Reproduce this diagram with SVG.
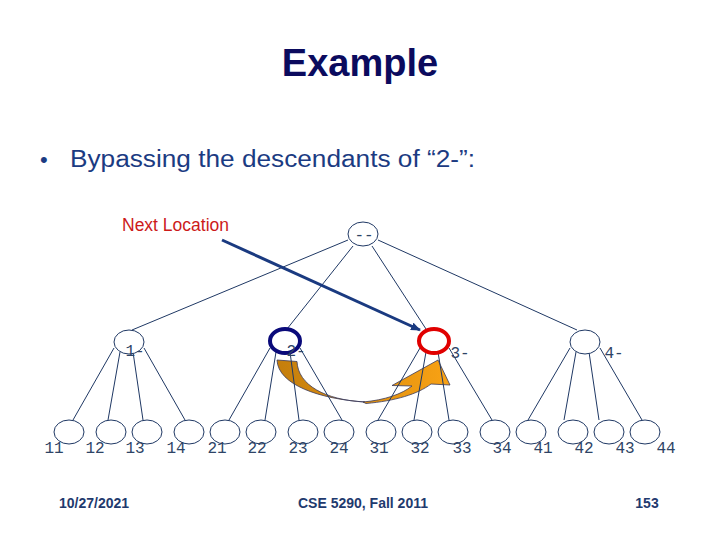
<svg xmlns="http://www.w3.org/2000/svg" width="720" height="540" viewBox="0 0 720 540">
<style>
.edge{stroke:#1F3864;stroke-width:1;fill:none}
.node{fill:#fff;stroke:#1F3864;stroke-width:1}
.lbl{font-family:"Liberation Mono","DejaVu Sans Mono",monospace;font-size:16px;fill:#2E4466}
.foot{font-family:"Liberation Sans",Arial,sans-serif;font-size:14px;font-weight:bold;fill:#1F3A6E}
</style>
<defs>
<marker id="ah" markerWidth="10" markerHeight="8" refX="9" refY="4" orient="auto" markerUnits="userSpaceOnUse">
<path d="M0,0 L10,4 L0,8 Z" fill="#1A3A80"/>
</marker>
<linearGradient id="og" x1="277" y1="0" x2="450" y2="0" gradientUnits="userSpaceOnUse">
<stop offset="0" stop-color="#C47E0C"/>
<stop offset="1" stop-color="#F9A214"/>
</linearGradient>
</defs>
<rect width="720" height="540" fill="#fff"/>
<text x="360" y="76" text-anchor="middle" font-family="Liberation Sans,Arial,sans-serif" font-size="38" font-weight="bold" fill="#0B0B5E">Example</text>
<text x="40" y="167" font-family="Liberation Sans,Arial,sans-serif" font-size="22" fill="#1B3B82">•</text>
<text x="70" y="167" font-family="Liberation Sans,Arial,sans-serif" font-size="23" fill="#1B3B82" textLength="405" lengthAdjust="spacingAndGlyphs">Bypassing the descendants of “2-”:</text>
<text x="122" y="231" font-family="Liberation Sans,Arial,sans-serif" font-size="17.5" fill="#CC1A1A">Next Location</text>
<g id="bypass-arrow">
<path d="M277,360 L297,361.5 C298,385 325,400 365,402 C320,399 278,385 277,360 Z" fill="url(#og)" stroke="#3A3A5A" stroke-width="0.8"/>
<path d="M363,402 C385,400 402,394 412,386 L392,385.5 L438,360 L450,385 L431,384 C418,394 395,401 366,403.5 Z" fill="url(#og)" stroke="#3A3A5A" stroke-width="0.8"/>
</g>
<g id="connectors">
<line class="edge" x1="348" y1="240" x2="132" y2="330"/>
<line class="edge" x1="353" y1="246" x2="287" y2="329"/>
<line class="edge" x1="372" y1="246" x2="426" y2="329"/>
<line class="edge" x1="378" y1="240" x2="577" y2="330"/>
<line class="edge" x1="114" y1="348" x2="73" y2="420"/>
<line class="edge" x1="120" y1="352" x2="108" y2="420"/>
<line class="edge" x1="133" y1="352" x2="143" y2="420"/>
<line class="edge" x1="144" y1="348" x2="185" y2="420"/>
<line class="edge" x1="270" y1="348" x2="229" y2="420"/>
<line class="edge" x1="276" y1="352" x2="265" y2="420"/>
<line class="edge" x1="290" y1="352" x2="299" y2="420"/>
<line class="edge" x1="300" y1="348" x2="342" y2="420"/>
<line class="edge" x1="420" y1="348" x2="378" y2="420"/>
<line class="edge" x1="426" y1="352" x2="414" y2="420"/>
<line class="edge" x1="438" y1="352" x2="449" y2="420"/>
<line class="edge" x1="449" y1="348" x2="492" y2="420"/>
<line class="edge" x1="570" y1="348" x2="528" y2="420"/>
<line class="edge" x1="576" y1="352" x2="564" y2="420"/>
<line class="edge" x1="589" y1="352" x2="599" y2="420"/>
<line class="edge" x1="600" y1="348" x2="642" y2="420"/>
<line x1="222" y1="240" x2="420" y2="330" stroke="#1A3A80" stroke-width="3" marker-end="url(#ah)"/>
</g>
<g id="n-root"><ellipse class="node" cx="363" cy="234" rx="15" ry="12"/><text class="lbl" x="364" y="240" text-anchor="middle">--</text></g>
<g id="n-1"><ellipse class="node" cx="129" cy="342" rx="15" ry="12"/><text class="lbl" x="135" y="356" text-anchor="middle">1-</text></g>
<g id="n-2"><ellipse class="node" cx="285" cy="341" rx="15" ry="12" style="stroke:#0A0A7A;stroke-width:4"/><text class="lbl" x="296" y="356" text-anchor="middle">2-</text></g>
<g id="n-3"><ellipse class="node" cx="434" cy="341" rx="15" ry="12" style="stroke:#E00000;stroke-width:4"/><text class="lbl" x="460" y="358" text-anchor="middle">3-</text></g>
<g id="n-4"><ellipse class="node" cx="585" cy="342" rx="15" ry="12"/><text class="lbl" x="614" y="358" text-anchor="middle">4-</text></g>
<g id="n-11"><ellipse class="node" cx="69" cy="432" rx="15" ry="12"/><text class="lbl" x="54" y="453" text-anchor="middle">11</text></g>
<g id="n-12"><ellipse class="node" cx="111" cy="432" rx="15" ry="12"/><text class="lbl" x="95" y="453" text-anchor="middle">12</text></g>
<g id="n-13"><ellipse class="node" cx="147" cy="432" rx="15" ry="12"/><text class="lbl" x="135" y="453" text-anchor="middle">13</text></g>
<g id="n-14"><ellipse class="node" cx="189" cy="432" rx="15" ry="12"/><text class="lbl" x="176" y="453" text-anchor="middle">14</text></g>
<g id="n-21"><ellipse class="node" cx="225" cy="432" rx="15" ry="12"/><text class="lbl" x="217" y="453" text-anchor="middle">21</text></g>
<g id="n-22"><ellipse class="node" cx="261" cy="432" rx="15" ry="12"/><text class="lbl" x="257" y="453" text-anchor="middle">22</text></g>
<g id="n-23"><ellipse class="node" cx="303" cy="432" rx="15" ry="12"/><text class="lbl" x="298" y="453" text-anchor="middle">23</text></g>
<g id="n-24"><ellipse class="node" cx="339" cy="432" rx="15" ry="12"/><text class="lbl" x="339" y="453" text-anchor="middle">24</text></g>
<g id="n-31"><ellipse class="node" cx="381" cy="432" rx="15" ry="12"/><text class="lbl" x="379" y="453" text-anchor="middle">31</text></g>
<g id="n-32"><ellipse class="node" cx="417" cy="432" rx="15" ry="12"/><text class="lbl" x="420" y="453" text-anchor="middle">32</text></g>
<g id="n-33"><ellipse class="node" cx="453" cy="432" rx="15" ry="12"/><text class="lbl" x="462" y="453" text-anchor="middle">33</text></g>
<g id="n-34"><ellipse class="node" cx="495" cy="432" rx="15" ry="12"/><text class="lbl" x="502" y="453" text-anchor="middle">34</text></g>
<g id="n-41"><ellipse class="node" cx="531" cy="432" rx="15" ry="12"/><text class="lbl" x="543" y="453" text-anchor="middle">41</text></g>
<g id="n-42"><ellipse class="node" cx="573" cy="432" rx="15" ry="12"/><text class="lbl" x="584" y="453" text-anchor="middle">42</text></g>
<g id="n-43"><ellipse class="node" cx="609" cy="432" rx="15" ry="12"/><text class="lbl" x="625" y="453" text-anchor="middle">43</text></g>
<g id="n-44"><ellipse class="node" cx="645" cy="432" rx="15" ry="12"/><text class="lbl" x="666" y="453" text-anchor="middle">44</text></g>
<text class="foot" x="94" y="508" text-anchor="middle">10/27/2021</text>
<text class="foot" x="363" y="508" text-anchor="middle">CSE 5290, Fall 2011</text>
<text class="foot" x="647" y="508" text-anchor="middle">153</text>
</svg>
